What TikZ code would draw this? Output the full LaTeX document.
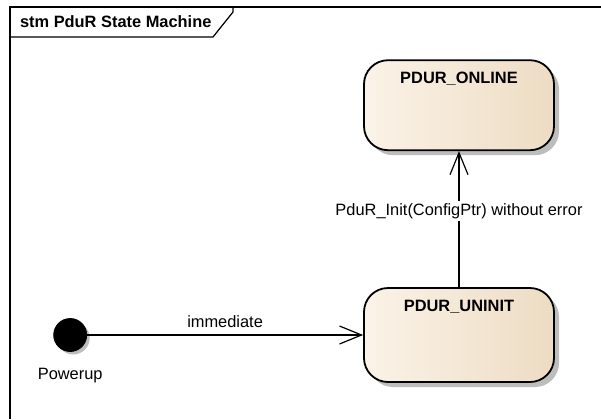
\documentclass[tikz,border=0pt]{standalone}
\usepackage{fontspec}
\setmainfont{Liberation Sans}
\usetikzlibrary{positioning,arrows.meta,shadows}

\definecolor{stateleft}{HTML}{FBF3E8}
\definecolor{stateright}{HTML}{EDDCC3}
\definecolor{shadowgray}{HTML}{BDBDBD}

\begin{document}
\begin{tikzpicture}[x=0.5pt,y=-0.5pt,font=\fontsize{8.2}{10}\selectfont,
        state node/.style={rectangle, rounded corners=12pt, draw, line width=0.9pt,
        left color=stateleft, right color=stateright, minimum width=95pt,
        drop shadow={shadow xshift=2.5pt, shadow yshift=-2.5pt, fill=shadowgray, opacity=1}},
        init node/.style={circle, draw, fill=black, inner sep=0pt, minimum size=16pt,
        drop shadow={shadow xshift=1.5pt, shadow yshift=-1.5pt, fill=shadowgray, opacity=1}},
        trans/.style={-{Straight Barb[length=11pt,width=9pt]}, line width=0.6pt}
        ]

        \useasboundingbox (0,0) rectangle (601,419);

        % frame and its tab
        \draw[line width=0.6pt] (601,7) -- (10,7) -- (10,419);
        \draw[line width=0.6pt] (10,37) -- (213,37) -- (233,12) -- (233,7);
        \node [anchor=west, font=\fontsize{8.2}{10}\selectfont\bfseries] (title) at (13,22) {stm PduR State Machine};

        \node [state node, minimum height=47pt,
          label={[anchor=north, yshift=-3pt, font=\fontsize{8.2}{10}\selectfont\bfseries]north:PDUR\_UNINIT}]
          (uninit) at (459,335) {};
        \node [state node, minimum height=45pt,
          label={[anchor=north, yshift=-3pt, font=\fontsize{8.2}{10}\selectfont\bfseries]north:PDUR\_ONLINE}]
          (online) [above = 68pt of uninit] {};
        \node [init node, minimum size=16.5pt, label={[label distance=4.5pt]below:Powerup}] (powerup) [left = 138pt of uninit] {};

        \path[trans]
        (powerup) edge node [above] {immediate} (uninit)
        (uninit) edge node [fill=white, inner sep=1pt, pos=0.56] {PduR\_Init(ConfigPtr) without error} (online)
        ;
     \end{tikzpicture}
\end{document}
